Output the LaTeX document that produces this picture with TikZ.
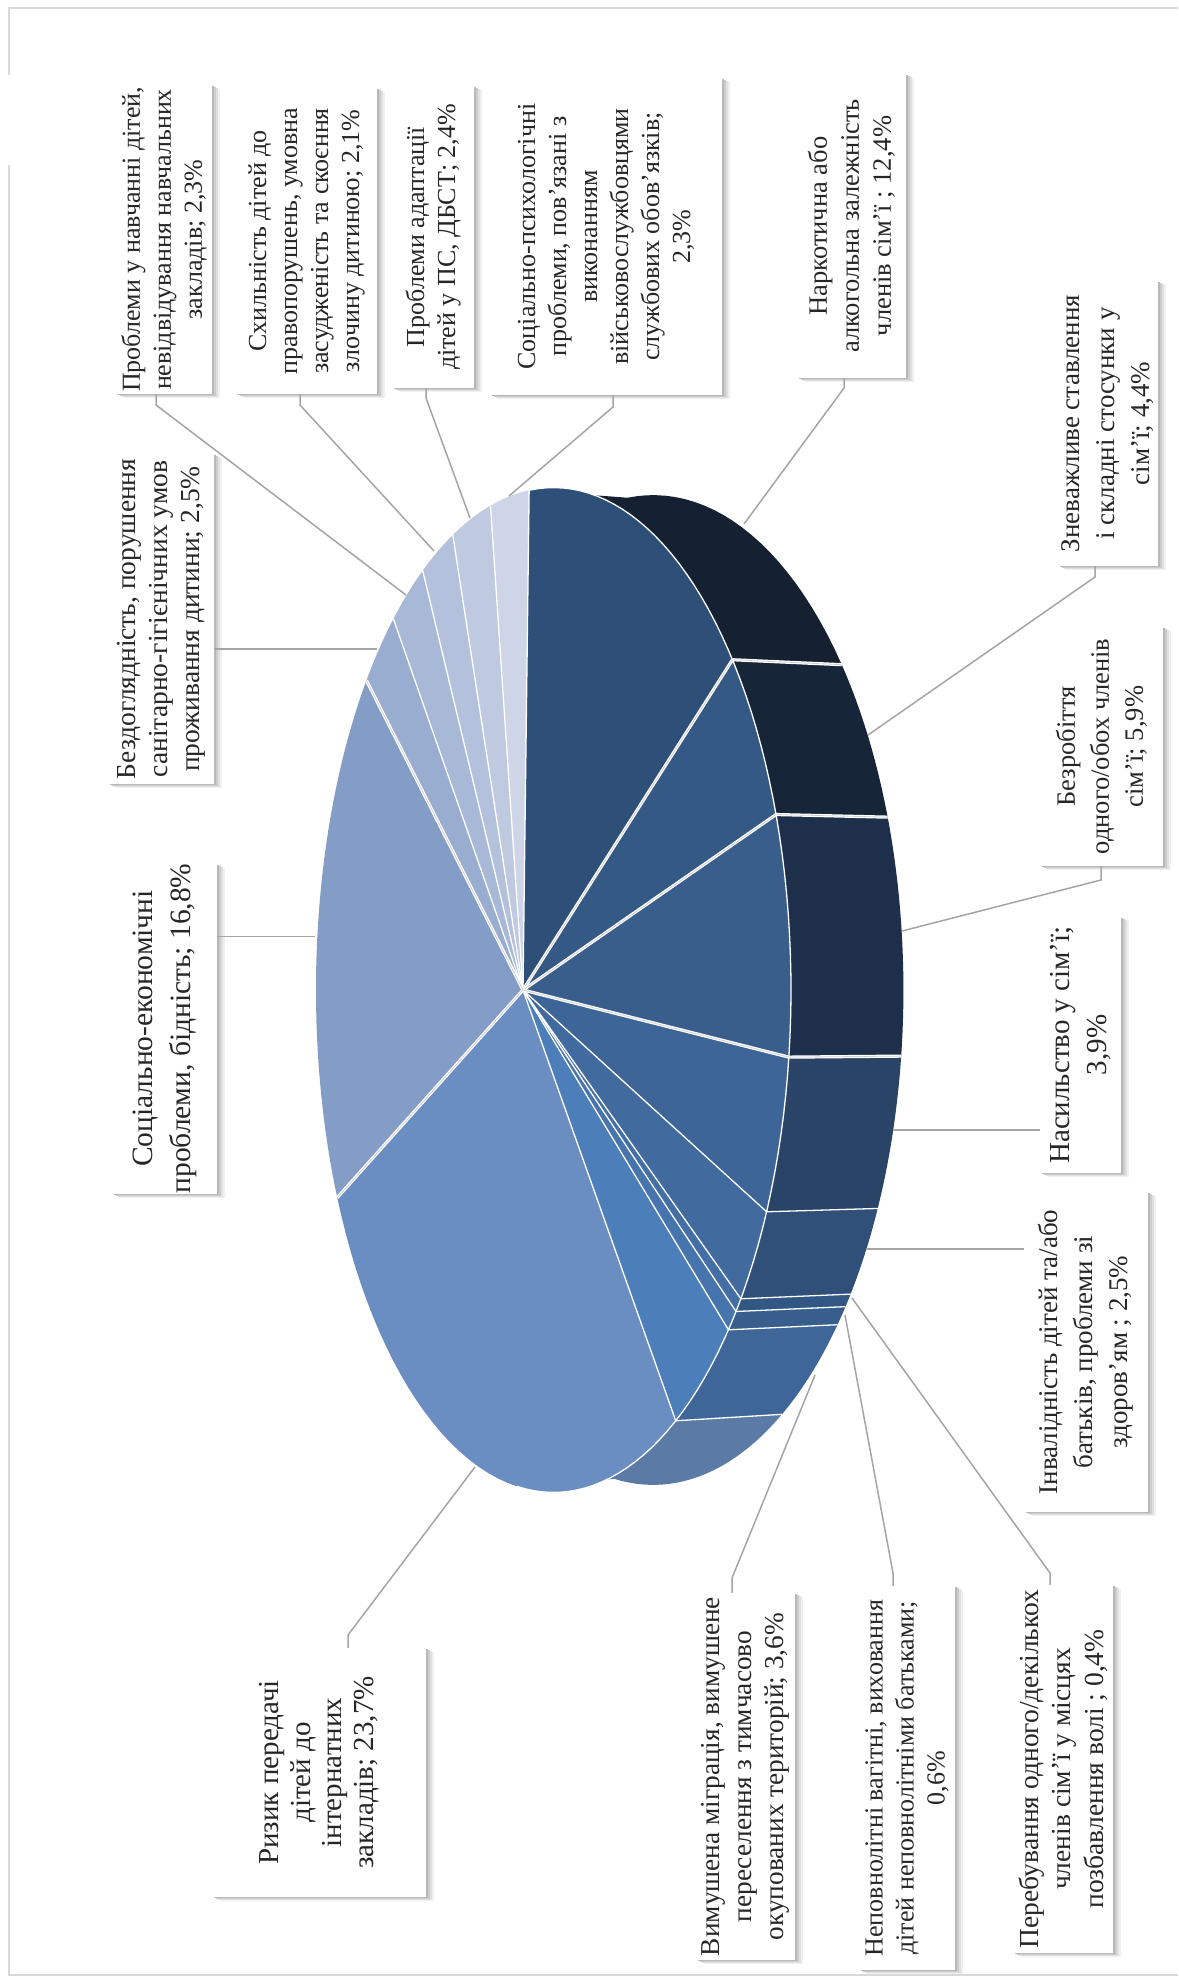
\documentclass[tikz,border=0pt]{standalone}
\usepackage{fontspec}
\setmainfont{Liberation Serif}
\definecolor{s1}{HTML}{152031}
\definecolor{s2}{HTML}{172538}
\definecolor{s3}{HTML}{1D2F4A}
\definecolor{s4}{HTML}{294466}
\definecolor{s5}{HTML}{30507A}
\definecolor{s6}{HTML}{335784}
\definecolor{s7}{HTML}{385E8E}
\definecolor{s8}{HTML}{3F6699}
\definecolor{s9}{HTML}{5B7AA6}
\definecolor{t1}{HTML}{2E5078}
\definecolor{t2}{HTML}{345985}
\definecolor{t3}{HTML}{3A5E8C}
\definecolor{t4}{HTML}{3D6597}
\definecolor{t5}{HTML}{416A9F}
\definecolor{t6}{HTML}{436FA6}
\definecolor{t7}{HTML}{4674AD}
\definecolor{t8}{HTML}{4C7FB9}
\definecolor{t9}{HTML}{6A8EC2}
\definecolor{t10}{HTML}{849DC6}
\definecolor{t11}{HTML}{98ADCF}
\definecolor{t12}{HTML}{A8B8D7}
\definecolor{t13}{HTML}{B4C1DC}
\definecolor{t14}{HTML}{BFCAE1}
\definecolor{t15}{HTML}{CDD5E7}
\definecolor{leadgray}{HTML}{A5A5A5}
\definecolor{framegray}{HTML}{D9D9D9}
\definecolor{txtgray}{HTML}{262626}
\begin{document}
\begin{tikzpicture}[x=1pt,y=-1pt,
  declare function={
    persp(\t)=1/(1-0.1284*sin(\t+1.5));
    topx(\t)=523+233.6*sin(\t+1.5)*persp(\t);
    topy(\t)=990-498.3*cos(\t+1.5)*persp(\t);
    botx(\t)=topx(\t)+98*persp(\t);
    boty(\t)=990+0.985*(topy(\t)-990);
  },
  lead/.style={draw=leadgray, line width=1.5pt},
  edge/.style={draw=white, line width=1.3pt},
  dbl/.style={draw=white, line width=3.2pt},
  dblcore/.style={draw=black!18, line width=0.8pt},
  lbl/.style={rotate=90, fill=white, inner sep=0pt, align=center, text=txtgray,
    font=\fontsize{26}{31}\selectfont,
    preaction={fill=black!6, transform canvas={shift={(8pt,-4pt)}}},
    preaction={fill=black!12, transform canvas={shift={(6pt,-3pt)}}},
    preaction={fill=black!20, transform canvas={shift={(4pt,-2pt)}}},
    preaction={fill=black!28, transform canvas={shift={(2pt,-1pt)}}}},
]
\useasboundingbox (0,0) rectangle (1178,1977);
\fill[white] (0,0) rectangle (1178,1977);
% frame
\draw[framegray, line width=2pt] (9,75) -- (9,8) -- (1178,8);
\draw[framegray, line width=2pt] (9,165) -- (9,1975) -- (1178,1975);

% pie sides
\foreach \a/\b/\c in {0/52.03/s1, 52.03/70.49/s2, 70.49/95.25/s3, 95.25/111.61/s4,
  111.61/122.10/s5, 122.10/123.78/s6, 123.78/126.29/s7, 126.29/141.40/s8, 141.40/180/s9}
  \fill[\c] plot[domain=\a:\b, samples=25, variable=\t] ({topx(\t)},{topy(\t)})
     -- plot[domain=\b:\a, samples=25, variable=\t] ({botx(\t)},{boty(\t)}) -- cycle;
% side edges
\foreach \a in {122.10,123.78,126.29,141.40,111.61}
  \draw[edge] ({topx(\a)},{topy(\a)}) -- ({botx(\a)},{boty(\a)});
\foreach \a in {52.03,70.49,95.25}{
  \draw[dbl] ({topx(\a)},{topy(\a)}) -- ({botx(\a)},{boty(\a)});
  \draw[dblcore] ({topx(\a)},{topy(\a)}) -- ({botx(\a)},{boty(\a)});}

% pie top
\foreach \a/\b/\c in {0/52.03/t1, 52.03/70.49/t2, 70.49/95.25/t3, 95.25/111.61/t4,
  111.61/122.10/t5, 122.10/123.78/t6, 123.78/126.29/t7, 126.29/141.40/t8, 141.40/240.84/t9,
  240.84/311.33/t10, 311.33/321.82/t11, 321.82/331.47/t12, 331.47/340.28/t13,
  340.28/350.35/t14, 350.35/360/t15}
  \fill[\c] (523,990) -- plot[domain=\a:\b, samples=40, variable=\t] ({topx(\t)},{topy(\t)}) -- cycle;
\draw[edge] plot[domain=0:180, samples=90, variable=\t] ({topx(\t)},{topy(\t)});
\foreach \a in {0,111.61,122.10,123.78,126.29,141.40,321.82,331.47,340.28,350.35}
  \draw[edge] (523,990) -- ({topx(\a)},{topy(\a)});
\foreach \a in {52.03,70.49,95.25,240.84,311.33}{
  \draw[dbl] (523,990) -- ({topx(\a)},{topy(\a)});
  \draw[dblcore] (523,990) -- ({topx(\a)},{topy(\a)});}

% leader coordinates
\coordinate (c12) at (406,595); \coordinate (e12) at (156,405);
\coordinate (c13) at (434,551); \coordinate (e13) at (300,405);
\coordinate (c14) at (470,518); \coordinate (e14) at (426,398);
\coordinate (c15) at (509,496); \coordinate (e15) at (613,407);
\coordinate (c1) at (744,524);  \coordinate (e1) at (844,388);
\coordinate (c2) at (868,735);  \coordinate (e2) at (1095,577);
\coordinate (c3) at (902,931);  \coordinate (e3) at (1101,880);
\coordinate (c4) at (893,1130);
\coordinate (c5) at (866,1249);
\coordinate (c6) at (852,1298); \coordinate (e6) at (1050,1573);
\coordinate (c7) at (845,1315); \coordinate (e7) at (893,1573);
\coordinate (c8) at (815,1375); \coordinate (e8) at (732,1578);
\coordinate (c9) at (475,1467); \coordinate (e9) at (348,1635);
\coordinate (c10) at (315,936.5);
\coordinate (c11) at (377,649);

% label boxes
\node[lbl, minimum width=309pt, minimum height=96pt] (b12) at (164,239.5)
  {Проблеми у навчанні дітей,\\невідвідування навчальних\\закладів; 2,3\%};
\node[lbl, minimum width=306pt, minimum height=141pt] (b13) at (306.5,241)
  {Схильність дітей до\\правопорушень, умовна\\засудженість та скоєння\\злочину дитиною; 2,1\%};
\node[lbl, minimum width=302pt, minimum height=82pt] (b14) at (433,237)
  {Проблеми адаптації\\дітей у ПС, ДБСТ; 2,4\%};
\node[lbl, minimum width=317pt, minimum height=232pt] (b15) at (606,236.5)
  {Соціально-психологічні\\проблеми, пов’язані з\\виконанням\\військовослужбовцями\\службових обов’язків;\\2,3\%};
\node[lbl, minimum width=304pt, minimum height=109pt, font=\fontsize{26.5}{32}\selectfont] (b1) at (851.5,226)
  {Наркотична або\\алкогольна залежність\\членів сім’ї ; 12,4\%};
\node[lbl, minimum width=285pt, minimum height=100pt, font=\fontsize{27}{35}\selectfont] (b2) at (1108,423.5)
  {Зневажливе ставлення\\і складні стосунки у\\сім’ї; 4,4\%};
\node[lbl, minimum width=239pt, minimum height=123pt, font=\fontsize{26.5}{34}\selectfont] (b3) at (1101.5,746.5)
  {Безробіття\\одного/обох членів\\сім’ї; 5,9\%};
\node[lbl, minimum width=256pt, minimum height=81pt, font=\fontsize{29}{37}\selectfont] (b4) at (1080.5,1045)
  {Насильство у сім’ї;\\3,9\%};
\node[lbl, minimum width=320pt, minimum height=124pt, font=\fontsize{27}{35}\selectfont] (b5) at (1086,1352)
  {Інвалідність дітей та/або\\батьків, проблеми зі\\здоров’ям ; 2,5\%};
\node[lbl, minimum width=368pt, minimum height=100pt, font=\fontsize{27.5}{32.5}\selectfont] (b6) at (1063,1769)
  {Перебування одного/декількох\\членів сім’ї у місцях\\позбавлення волі ; 0,4\%};
\node[lbl, minimum width=384pt, minimum height=96pt] (b7) at (907,1778)
  {Неповнолітні вагітні, виховання\\дітей неповнолітніми батьками;\\0,6\%};
\node[lbl, minimum width=367pt, minimum height=99pt, font=\fontsize{27.3}{32}\selectfont] (b8) at (745.5,1776.5)
  {Вимушена міграція, вимушене\\переселення з тимчасово\\окупованих територій; 3,6\%};
\node[lbl, minimum width=249pt, minimum height=214pt, font=\fontsize{29}{31.5}\selectfont] (b9) at (319,1772.5)
  {Ризик передачі\\дітей до\\інтернатних\\закладів; 23,7\%};
\node[lbl, minimum width=319pt, minimum height=105pt, font=\fontsize{29.5}{38}\selectfont] (b10) at (164.5,1028.5)
  {Соціально-економічні\\проблеми, бідність; 16,8\%};
\node[lbl, minimum width=330pt, minimum height=106pt, font=\fontsize{27.5}{32}\selectfont] (b11) at (161,619)
  {Бездоглядність, порушення\\санітарно-гігієнічних умов\\проживання дитини; 2,5\%};

% leaders
\draw[lead] (c12) -- (e12) -- (e12 |- b12.west);
\draw[lead] (c13) -- (e13) -- (e13 |- b13.west);
\draw[lead] (c14) -- (e14) -- (e14 |- b14.west);
\draw[lead] (c15) -- (e15) -- (e15 |- b15.west);
\draw[lead] (c1) -- (e1) -- (e1 |- b1.west);
\draw[lead] (c2) -- (e2) -- (e2 |- b2.west);
\draw[lead] (c3) -- (e3) -- (e3 |- b3.west);
\draw[lead] (c4) -- (c4 -| b4.north);
\draw[lead] (c5) -- (c5 -| b5.north);
\draw[lead] (c6) -- (e6) -- (e6 |- b6.east);
\draw[lead] (c7) -- (e7) -- (e7 |- b7.east);
\draw[lead] (c8) -- (e8) -- (e8 |- b8.east);
\draw[lead] (c9) -- (e9) -- (e9 |- b9.east);
\draw[lead] (c10) -- (c10 -| b10.south);
\draw[lead] (c11) -- (c11 -| b11.south);
\end{tikzpicture}
\end{document}
